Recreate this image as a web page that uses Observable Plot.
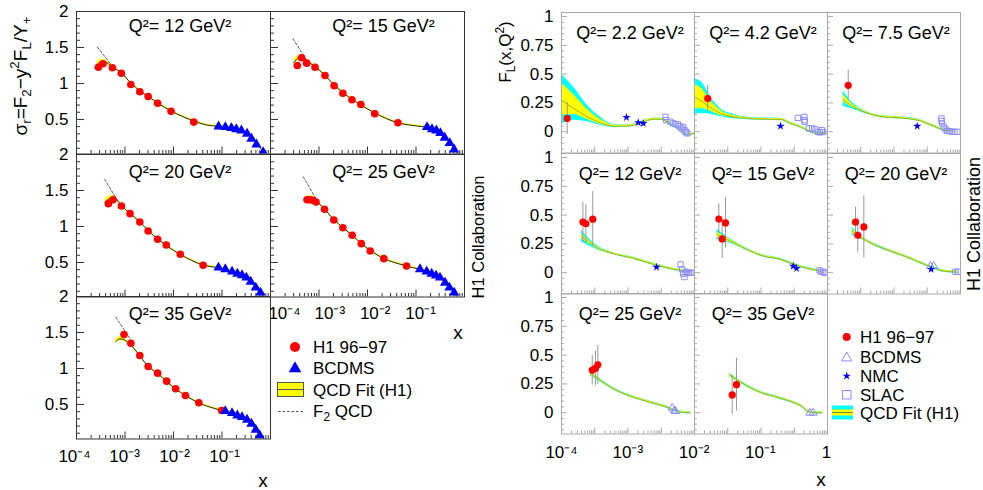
<!DOCTYPE html>
<html><head><meta charset="utf-8">
<script src="https://cdn.jsdelivr.net/npm/d3@7"></script>
<script src="https://cdn.jsdelivr.net/npm/@observablehq/plot@0.6"></script>
<style>
html,body{margin:0;padding:0;background:#fff;}
#root{position:relative;width:983px;height:490px;overflow:hidden;background:#fff;font-family:"Liberation Sans",Arial,Helvetica,sans-serif;color:#000;}
.t{position:absolute;white-space:nowrap;line-height:1;}
.rot{transform:translate(-50%,-50%) rotate(-90deg);}
.ctr{transform:translate(-50%,-50%);}
.lft{transform:translate(0,-50%);}
sub,sup{font-size:70%;line-height:0;}
</style></head>
<body><div id="root"></div>
<script>
// ---------------- DATA: left figure, sigma_r = F2 - y^2 FL / Y+ ----------------
const sigQ2 = [12, 15, 20, 25, 35];
const h1_12 = [[2.82e-4,1.226],[3.51e-4,1.274],[5.5e-4,1.218],[8.4e-4,1.143],[1.32e-3,0.986],[2.02e-3,0.885],[3.0e-3,0.819],[4.7e-3,0.726],[8.9e-3,0.615],[0.0262,0.463]];
const bcdms_12 = [[0.085,0.403],[0.117,0.393],[0.156,0.379],[0.197,0.365],[0.251,0.347],[0.329,0.301],[0.404,0.232],[0.513,0.153],[0.706,0.046]];
const fit_12 = [[2.69e-4,1.264,0.035],[3.14e-4,1.299,0.035],[3.8e-4,1.299,0.03],[5.5e-4,1.229,0.018],[8.4e-4,1.146,0.014],[1.32e-3,1.007,0.012],[2.02e-3,0.896,0.012],[3.0e-3,0.819,0.012],[4.7e-3,0.729,0.012],[8.9e-3,0.618,0.012],[0.0262,0.479,0.012],[0.0472,0.424,0.012],[0.085,0.403,0.012],[0.156,0.382,0.012],[0.251,0.347,0.012],[0.404,0.250,0.012],[0.563,0.139,0.012],[0.752,0.028,0.012]];
const f2_12 = [[2.69e-4,1.504],[5.6e-4,1.236]];

const h1_15 = [[3.57e-4,1.25],[4.38e-4,1.357],[5.57e-4,1.282],[8.28e-4,1.226],[1.33e-3,1.111],[2.05e-3,0.968],[3.1e-3,0.865],[4.78e-3,0.774],[7.3e-3,0.708],[0.0141,0.579],[0.0423,0.454]];
const bcdms_15 = [[0.169,0.393],[0.214,0.365],[0.263,0.347],[0.318,0.310],[0.391,0.246],[0.496,0.171],[0.611,0.083]];
const fit_15 = [[3.04e-4,1.292,0.035],[3.63e-4,1.347,0.035],[4.38e-4,1.361,0.03],[5.57e-4,1.313,0.018],[8.28e-4,1.236,0.014],[1.33e-3,1.111,0.012],[2.05e-3,0.979,0.012],[3.1e-3,0.875,0.012],[4.78e-3,0.778,0.012],[7.3e-3,0.701,0.012],[0.0141,0.590,0.012],[0.0423,0.454,0.012],[0.101,0.410,0.012],[0.169,0.389,0.012],[0.263,0.347,0.012],[0.391,0.257,0.012],[0.496,0.181,0.012],[0.621,0.090,0.012],[0.752,0.024,0.012]];
const f2_15 = [[2.9e-4,1.621],[6.2e-4,1.274]];

const h1_20 = [[4.54e-4,1.317],[5.66e-4,1.372],[8.43e-4,1.285],[1.27e-3,1.178],[2.02e-3,1.063],[3.0e-3,0.938],[4.7e-3,0.822],[7.1e-3,0.743],[0.0138,0.614],[0.0409,0.461]];
const bcdms_20 = [[0.0847,0.428],[0.117,0.406],[0.161,0.372],[0.207,0.344],[0.259,0.322],[0.318,0.289],[0.391,0.233],[0.496,0.150],[0.621,0.081]];
const fit_20 = [[3.87e-4,1.340,0.035],[4.61e-4,1.382,0.035],[5.58e-4,1.403,0.03],[7.08e-4,1.354,0.018],[8.43e-4,1.292,0.014],[1.27e-3,1.181,0.012],[2.02e-3,1.063,0.012],[3.0e-3,0.944,0.012],[4.7e-3,0.826,0.012],[7.1e-3,0.736,0.012],[0.0138,0.611,0.012],[0.0409,0.465,0.012],[0.0847,0.424,0.012],[0.161,0.375,0.012],[0.259,0.319,0.012],[0.391,0.229,0.012],[0.496,0.153,0.012],[0.621,0.076,0.012],[0.716,0.021,0.012]];
const f2_20 = [[3.8e-4,1.656],[6.98e-4,1.364]];

const h1_25 = [[5.66e-4,1.372],[6.53e-4,1.372],[7.42e-4,1.364],[8.69e-4,1.340],[1.30e-3,1.239],[2.02e-3,1.090],[3.11e-3,0.983],[4.84e-3,0.878],[7.44e-3,0.761],[0.0114,0.660],[0.0217,0.553],[0.0637,0.451]];
const bcdms_25 = [[0.121,0.406],[0.166,0.372],[0.210,0.344],[0.259,0.317],[0.313,0.289],[0.398,0.219],[0.489,0.150],[0.612,0.081]];
const fit_25 = [[5.24e-4,1.368,0.035],[6.34e-4,1.396,0.035],[7.78e-4,1.382,0.03],[9.42e-4,1.333,0.018],[1.30e-3,1.243,0.014],[2.02e-3,1.097,0.012],[3.11e-3,0.986,0.012],[4.84e-3,0.875,0.012],[7.44e-3,0.764,0.012],[0.0114,0.667,0.012],[0.0217,0.556,0.012],[0.0637,0.451,0.012],[0.121,0.403,0.012],[0.210,0.347,0.012],[0.313,0.285,0.012],[0.398,0.215,0.012],[0.489,0.146,0.012],[0.612,0.076,0.012],[0.692,0.028,0.012]];
const f2_25 = [[4.76e-4,1.688],[9.42e-4,1.344]];

const h1_35 = [[9.55e-4,1.472],[1.32e-3,1.351],[2.02e-3,1.181],[3.0e-3,1.028],[4.7e-3,0.935],[7.23e-3,0.824],[0.0111,0.718],[0.0176,0.625],[0.0333,0.524],[0.098,0.417]];
const bcdms_35 = [[0.117,0.407],[0.161,0.379],[0.207,0.347],[0.259,0.324],[0.329,0.288],[0.404,0.232],[0.496,0.149],[0.599,0.069]];
const fit_35 = [[6.43e-4,1.375,0.03],[7.78e-4,1.410,0.03],[9.42e-4,1.403,0.025],[1.14e-3,1.361,0.018],[1.32e-3,1.326,0.014],[2.02e-3,1.174,0.012],[3.0e-3,1.028,0.012],[4.7e-3,0.931,0.012],[7.23e-3,0.819,0.012],[0.0111,0.715,0.012],[0.0176,0.625,0.012],[0.0333,0.521,0.012],[0.098,0.417,0.012],[0.161,0.375,0.012],[0.259,0.319,0.012],[0.404,0.229,0.012],[0.496,0.153,0.012],[0.599,0.083,0.012],[0.716,0.028,0.012]];
const f2_35 = [[6.43e-4,1.713],[1.43e-3,1.365]];

const sigYTicks = [0.5, 1, 1.5, 2];
const xTickLabels = [1e-4, 1e-3, 1e-2, 1e-1];
const xTickLabelsR = [1e-4, 1e-3, 1e-2, 1e-1, 1];

// ---------------- DATA: right figure, F_L(x,Q2) ----------------
const flQ2 = [2.2, 4.2, 7.5, 12, 15, 20, 25, 35];
// fit rows: [x, central, yellowLo, yellowHi, cyanLo, cyanHi] or [x, central, yellowHalf, cyanHalf]
const fl22_fit = [[1e-4,0.273,0.144,0.423,0.066,0.498],[2.34e-4,0.202,0.150,0.320,0.100,0.383],[5.93e-4,0.129,0.106,0.195,0.086,0.230],[1.49e-3,0.077,0.064,0.105,0.055,0.125],[3.74e-3,0.048,0.008,0.013],[9.45e-3,0.048,0.007,0.010],[0.0238,0.077,0.007,0.010],[0.0597,0.109,0.007,0.010],[0.0949,0.109,0.007,0.010],[0.151,0.086,0.007,0.010],[0.302,0.029,0.007,0.010],[0.603,-0.029,0.007,0.010],[0.953,-0.015,0.007,0.010]];
const fl22_h1 = [[1.48e-4,0.115,0.14]];
const fl22_nmc = [[9.0e-3,0.124],[0.0203,0.080],[0.0287,0.072]];
const fl22_bcdms = [];
const fl22_slac = [[0.134,0.129],[0.141,0.100],[0.190,0.086],[0.229,0.072],[0.268,0.066],[0.315,0.063],[0.354,0.048],[0.406,0.029],[0.457,0.042],[0.500,0.014],[0.547,-0.001],[0.603,-0.015]];

const fl42_fit = [[1e-4,0.300,0.200,0.410,0.150,0.460],[1.7e-4,0.262,0.200,0.370,0.158,0.425],[3.2e-4,0.205,0.175,0.260,0.150,0.290],[6.05e-4,0.158,0.142,0.185,0.130,0.200],[1.52e-3,0.129,0.120,0.140,0.112,0.150],[3.85e-3,0.115,0.007,0.011],[9.66e-3,0.109,0.007,0.010],[0.0386,0.107,0.007,0.010],[0.077,0.072,0.007,0.010],[0.154,0.042,0.007,0.010],[0.308,-0.001,0.007,0.010],[0.616,-0.015,0.007,0.010],[0.95,-0.010,0.007,0.010]];
const fl42_h1 = [[2.5e-4,0.288,0.115]];
const fl42_nmc = [[0.0386,0.048]];
const fl42_bcdms = [];
const fl42_slac = [[0.128,0.120],[0.203,0.129],[0.203,0.100],[0.205,0.086],[0.274,0.029],[0.346,0.029],[0.436,0.020],[0.511,-0.001],[0.587,-0.006],[0.674,0.014],[0.743,-0.003]];

const fl75_fit = [[2.97e-4,0.279,0.259,0.323,0.221,0.360],[4.5e-4,0.240,0.226,0.262,0.205,0.282],[7.8e-4,0.201,0.192,0.212,0.182,0.222],[2.47e-3,0.144,0.007,0.010],[7.85e-3,0.124,0.007,0.010],[0.0249,0.115,0.007,0.010],[0.0627,0.094,0.007,0.010],[0.157,0.048,0.007,0.010],[0.315,0.014,0.007,0.010],[0.629,0.005,0.007,0.010]];
const fl75_h1 = [[4.2e-4,0.403,0.13]];
const fl75_nmc = [[0.0498,0.048]];
const fl75_bcdms = [];
const fl75_slac = [[0.268,0.115],[0.268,0.094],[0.281,0.072],[0.315,0.042],[0.354,0.020],[0.398,0.008],[0.478,0.005],[0.565,-0.001],[0.665,-0.001],[0.801,-0.001]];

const fl12_fit = [[4.0e-4,0.317,0.020,0.050],[7.0e-4,0.260,0.014,0.030],[1.49e-3,0.202,0.009,0.014],[2.98e-3,0.172,0.007,0.010],[0.0149,0.124,0.007,0.010],[0.0597,0.072,0.007,0.010],[0.238,0.029,0.007,0.010],[0.758,0.008,0.007,0.010]];
const fl12_h1 = [[4.4e-4,0.44,0.17],[5.4e-4,0.425,0.17],[8.7e-4,0.465,0.24]];
const fl12_nmc = [[0.072,0.048]];
const fl12_bcdms = [];
const fl12_slac = [[0.380,0.072],[0.427,0.029],[0.457,-0.009],[0.500,-0.038],[0.536,0.008],[0.603,-0.001],[0.674,-0.001],[0.758,-0.001],[0.853,-0.001]];

const fl15_fit = [[4.8e-4,0.331,0.020,0.045],[1.52e-3,0.259,0.010,0.016],[4.83e-3,0.187,0.007,0.010],[9.66e-3,0.152,0.007,0.010],[0.0386,0.115,0.007,0.010],[0.097,0.072,0.007,0.010],[0.245,0.037,0.007,0.010],[0.616,0.014,0.007,0.010]];
const fl15_h1 = [[5.4e-4,0.466,0.13],[6.8e-4,0.293,0.17],[8.55e-4,0.432,0.22]];
const fl15_nmc = [[0.093,0.057],[0.117,0.037]];
const fl15_bcdms = [];
const fl15_slac = [[0.574,0.020],[0.643,0.008],[0.743,0.008],[0.82,-0.001]];

const fl20_fit = [[5.5e-4,0.360,0.018,0.035],[9.8e-4,0.308,0.010,0.016],[2.47e-3,0.245,0.007,0.010],[7.85e-3,0.187,0.007,0.010],[0.0249,0.135,0.007,0.010],[0.0787,0.075,0.007,0.010],[0.141,0.045,0.007,0.010],[0.315,0.014,0.007,0.010],[0.801,0.005,0.007,0.010]];
const fl20_h1 = [[6.95e-4,0.440,0.13],[8.15e-4,0.325,0.15],[1.24e-3,0.397,0.27]];
const fl20_nmc = [[0.131,0.029]];
const fl20_bcdms = [[0.125,0.057],[0.157,0.057]];
const fl20_slac = [[0.708,0.008],[0.84,0.008]];

const fl25_fit = [[7.46e-4,0.341,0.015,0.022],[1.49e-3,0.278,0.009,0.014],[4.73e-3,0.191,0.007,0.010],[0.0149,0.133,0.007,0.010],[0.0475,0.090,0.007,0.010],[0.151,0.047,0.007,0.010],[0.302,0.012,0.007,0.010],[0.758,-0.002,0.007,0.010]];
const fl25_h1 = [[8.4e-4,0.370,0.13],[1.05e-3,0.384,0.15],[1.24e-3,0.416,0.17]];
const fl25_nmc = [];
const fl25_bcdms = [[0.213,0.042],[0.25,0.018],[0.27,0.012]];
const fl25_slac = [];

const fl35_fit = [[1.13e-3,0.327,0.012,0.017],[2.42e-3,0.265,0.008,0.012],[9.66e-3,0.176,0.007,0.010],[0.0386,0.125,0.007,0.010],[0.154,0.061,0.007,0.010],[0.308,0.003,0.007,0.010],[0.692,-0.002,0.007,0.010]];
const fl35_h1 = [[1.36e-3,0.154,0.17],[1.83e-3,0.243,0.23]];
const fl35_nmc = [];
const fl35_bcdms = [[0.294,-0.002],[0.371,-0.002]];
const fl35_slac = [];

const flYTicks = [0, 0.25, 0.5, 0.75, 1];

// ---------------- helpers ----------------
const FONT = '"Liberation Sans", Arial, Helvetica, sans-serif';
const root = document.getElementById("root");
const SUP = {"-":"⁻","0":"⁰","1":"¹","2":"²","3":"³","4":"⁴","5":"⁵","6":"⁶","7":"⁷","8":"⁸","9":"⁹"};
const fmtPow = v => { const e = Math.round(Math.log10(v)); return e === 0 ? "1" : "10" + String(e).split("").map(c => SUP[c]).join(""); };
const baseStyle = {overflow: "visible", background: "transparent", fontFamily: FONT, fontSize: "17px", color: "#000"};
function mount(node, left, top) { node.style.position = "absolute"; node.style.left = left + "px"; node.style.top = top + "px"; node.style.maxWidth = "none"; root.appendChild(node); }
function txt(html, x, y, size, cls) { const d = document.createElement("div"); d.className = "t " + cls; d.innerHTML = html; d.style.left = x + "px"; d.style.top = y + "px"; d.style.fontSize = size + "px"; root.appendChild(d); }

const xMajor = [1e-4, 1e-3, 1e-2, 1e-1, 1];
const xMinor = []; for (let e = -4; e < 0; e++) for (let k = 2; k < 10; k++) xMinor.push(k * Math.pow(10, e));
const P = d => d[0], V = d => d[1];

function tickMarks(W, H, yMaj, yMin, L, stroke) {
  return [
    Plot.ruleX(xMajor, {stroke, insetTop: H - L[0]}),
    Plot.ruleX(xMinor, {stroke, insetTop: H - L[1]}),
    Plot.ruleY(yMaj, {stroke, insetRight: W - L[2]}),
    Plot.ruleY(yMin, {stroke, insetRight: W - L[3]})
  ];
}

// ---------------- left figure ----------------
const LCOLX = [76, 270], LROWY = [11, 153.5, 296], LW = 194, LH = 142.5, LYD = [0.02, 2];
const sigYMin = []; for (let i = 1; i < 20; i++) if (i % 5) sigYMin.push(i / 10);
const sigPanels = [
  [sigQ2[0], h1_12, bcdms_12, fit_12, f2_12, 0, 0],
  [sigQ2[1], h1_15, bcdms_15, fit_15, f2_15, 1, 0],
  [sigQ2[2], h1_20, bcdms_20, fit_20, f2_20, 0, 1],
  [sigQ2[3], h1_25, bcdms_25, fit_25, f2_25, 1, 1],
  [sigQ2[4], h1_35, bcdms_35, fit_35, f2_35, 0, 2]
];
for (const [q2, h1, bc, fit, f2, col, row] of sigPanels) {
  const band = fit.map(d => ({x: d[0], y: d[1], lo: d[1] - d[2], hi: d[1] + d[2]}));
  const marks = [
    ...tickMarks(LW, LH, [0.5, 1, 1.5], sigYMin, [7, 3.5, 8, 4], "#333"),
    Plot.areaY(band, {x: "x", y1: "lo", y2: "hi", fill: "#ffff00", curve: "monotone-x", clip: true}),
    Plot.line(band, {x: "x", y: "y", stroke: "#222", strokeWidth: 1, curve: "monotone-x", clip: true}),
    Plot.line(f2, {x: P, y: V, stroke: "#444", strokeWidth: 0.9, strokeDasharray: "2.5,2"}),
    Plot.dot(h1, {x: P, y: V, r: 3.8, fill: "#ff0000"}),
    Plot.dot(bc, {x: P, y: V, r: 3.8, symbol: "triangle", fill: "#0000ff", clip: true}),
    Plot.frame({stroke: "#333"}),
    Plot.text([`Q²= ${q2} GeV²`], {text: d => d, frameAnchor: "top", lineAnchor: "middle", dx: col === 0 ? 6.5 : 16, dy: row === 0 ? 15 : 17.5, fontSize: 18})
  ];
  if (col === 0) marks.push(Plot.axisY(sigYTicks, {tickSize: 0, tickPadding: 8, tickFormat: d => String(d), label: null, fontSize: 17}));
  const svg = Plot.plot({width: LW, height: LH, margin: 0, x: {type: "log", domain: [1e-4, 1], axis: null}, y: {domain: LYD, axis: null}, style: baseStyle, marks});
  mount(svg, LCOLX[col], LROWY[row]);
}
// x tick label strips
function axisStrip(left, top, width, domain, ticks) {
  const svg = Plot.plot({width, height: 1, margin: 0, x: {type: "log", domain}, style: baseStyle,
    marks: [Plot.axisX(ticks, {tickSize: 0, tickPadding: 0, tickFormat: fmtPow, label: null, fontSize: 17})]});
  mount(svg, left, top);
}
axisStrip(74, 448, 150, [1e-4, 1e-1], xTickLabels);
axisStrip(284, 305, 136, [1e-4, 1e-1], xTickLabels);

// ---------------- right figure ----------------
const RCOLX = [561, 694, 827], RROWY = [12, 152.5, 293], RW = 133, RH = 140.5, RYD = [-0.185, 1.035];
const flYMin = []; for (let i = -3; i <= 20; i++) if (i % 5) flYMin.push(i / 20);
const norm = d => d.length === 6 ? {x: d[0], c: d[1], yLo: d[2], yHi: d[3], cLo: d[4], cHi: d[5]}
                                 : {x: d[0], c: d[1], yLo: d[1] - d[2], yHi: d[1] + d[2], cLo: d[1] - d[3], cHi: d[1] + d[3]};
const flPanels = [
  [flQ2[0], fl22_fit, fl22_h1, fl22_nmc, fl22_bcdms, fl22_slac, 0, 0],
  [flQ2[1], fl42_fit, fl42_h1, fl42_nmc, fl42_bcdms, fl42_slac, 1, 0],
  [flQ2[2], fl75_fit, fl75_h1, fl75_nmc, fl75_bcdms, fl75_slac, 2, 0],
  [flQ2[3], fl12_fit, fl12_h1, fl12_nmc, fl12_bcdms, fl12_slac, 0, 1],
  [flQ2[4], fl15_fit, fl15_h1, fl15_nmc, fl15_bcdms, fl15_slac, 1, 1],
  [flQ2[5], fl20_fit, fl20_h1, fl20_nmc, fl20_bcdms, fl20_slac, 2, 1],
  [flQ2[6], fl25_fit, fl25_h1, fl25_nmc, fl25_bcdms, fl25_slac, 0, 2],
  [flQ2[7], fl35_fit, fl35_h1, fl35_nmc, fl35_bcdms, fl35_slac, 1, 2]
];
for (const [q2, fit, h1, nmc, bc, slac, col, row] of flPanels) {
  const F = fit.map(norm);
  const marks = [
    ...tickMarks(RW, RH, flYTicks, flYMin, [6, 3, 6, 3], "#aaa"),
    Plot.areaY(F, {x: "x", y1: "cLo", y2: "cHi", fill: "#00ffff", curve: "monotone-x", clip: true}),
    Plot.areaY(F, {x: "x", y1: "yLo", y2: "yHi", fill: "#ffff00", curve: "monotone-x", clip: true}),
    Plot.line(F, {x: "x", y: "c", stroke: "#8a9a30", strokeWidth: 0.8, curve: "monotone-x", clip: true}),
    Plot.ruleX(h1, {x: P, y1: d => d[1] - d[2], y2: d => d[1] + d[2], stroke: "#999", strokeWidth: 1, clip: true}),
    Plot.dot(slac, {x: P, y: V, r: 3, symbol: "square", stroke: "#8c8cff", strokeWidth: 1, fill: "none", clip: true}),
    Plot.dot(bc, {x: P, y: V, r: 3, symbol: "triangle", stroke: "#8c8cff", strokeWidth: 1, fill: "none", clip: true}),
    Plot.dot(nmc, {x: P, y: V, r: 2.6, symbol: "star", fill: "#0000ff", clip: true}),
    Plot.dot(h1, {x: P, y: V, r: 3.6, fill: "#ff0000"}),
    Plot.frame({stroke: "#aaa"}),
    Plot.text([`Q²= ${q2} GeV²`], {text: d => d, frameAnchor: "top", lineAnchor: "middle", dx: 2, dy: 21, fontSize: 18})
  ];
  if (col === 0) marks.push(Plot.axisY(flYTicks, {tickSize: 0, tickPadding: 8, tickFormat: d => String(d), label: null, fontSize: 17}));
  const svg = Plot.plot({width: RW, height: RH, margin: 0, x: {type: "log", domain: [1e-4, 1], axis: null}, y: {domain: RYD, axis: null}, style: baseStyle, marks});
  mount(svg, RCOLX[col], RROWY[row]);
}
axisStrip(561, 444, 265, [1e-4, 1], xTickLabelsR);

// ---------------- texts ----------------
txt("σ<sub>r</sub>=F<sub>2</sub>−y<sup>2</sup>F<sub>L</sub>/Y<sub>+</sub>", 20, 76, 19, "rot");
txt("F<sub>L</sub>(x,Q<sup>2</sup>)", 505, 52, 17, "rot");
txt("H1 Collaboration", 478, 237, 16.5, "rot");
txt("H1 Collaboration", 974, 224, 18, "rot");
txt("x", 263, 480, 19, "ctr");
txt("x", 458, 332, 19, "ctr");
txt("x", 821, 479, 19, "ctr");

// ---------------- legends ----------------
const ov = d3.create("svg").attr("width", 983).attr("height", 490).style("overflow", "visible").style("pointer-events", "none");
mount(ov.node(), 0, 0);
// left legend
ov.append("circle").attr("cx", 295).attr("cy", 347).attr("r", 5).attr("fill", "#ff0000");
ov.append("path").attr("d", d3.symbol(d3.symbolTriangle, 70)()).attr("transform", "translate(295,368.5)").attr("fill", "#0000ff");
ov.append("rect").attr("x", 277.5).attr("y", 382.5).attr("width", 26).attr("height", 14).attr("fill", "#ffff00").attr("stroke", "#555");
ov.append("line").attr("x1", 277.5).attr("x2", 303.5).attr("y1", 389.5).attr("y2", 389.5).attr("stroke", "#555");
ov.append("line").attr("x1", 278).attr("x2", 303).attr("y1", 411.5).attr("y2", 411.5).attr("stroke", "#555").attr("stroke-dasharray", "2.5,2");
txt("H1 96−97", 313, 347, 17, "lft");
txt("BCDMS", 313, 368, 17, "lft");
txt("QCD Fit (H1)", 313, 389.5, 17, "lft");
txt("F<sub>2</sub> QCD", 313, 411, 17, "lft");
// right legend
ov.append("circle").attr("cx", 846.7).attr("cy", 337).attr("r", 4).attr("fill", "#ff0000");
ov.append("path").attr("d", d3.symbol(d3.symbolTriangle, 45)()).attr("transform", "translate(846.7,358)").attr("fill", "none").attr("stroke", "#8c8cff");
ov.append("path").attr("d", d3.symbol(d3.symbolStar, 22)()).attr("transform", "translate(846.7,376)").attr("fill", "#0000ff");
ov.append("rect").attr("x", 842.5).attr("y", 390.5).attr("width", 8.5).attr("height", 8.5).attr("fill", "none").attr("stroke", "#8c8cff");
ov.append("rect").attr("x", 832).attr("y", 405.5).attr("width", 21).attr("height", 14).attr("fill", "#00ffff");
ov.append("rect").attr("x", 832).attr("y", 409.5).attr("width", 21).attr("height", 6).attr("fill", "#ffff00");
ov.append("line").attr("x1", 832).attr("x2", 853).attr("y1", 412.5).attr("y2", 412.5).attr("stroke", "#7a8a30");
txt("H1 96−97", 860, 337, 17, "lft");
txt("BCDMS", 860, 357, 17, "lft");
txt("NMC", 860, 376, 17, "lft");
txt("SLAC", 860, 395, 17, "lft");
txt("QCD Fit (H1)", 860, 413, 17, "lft");
</script></body></html>
